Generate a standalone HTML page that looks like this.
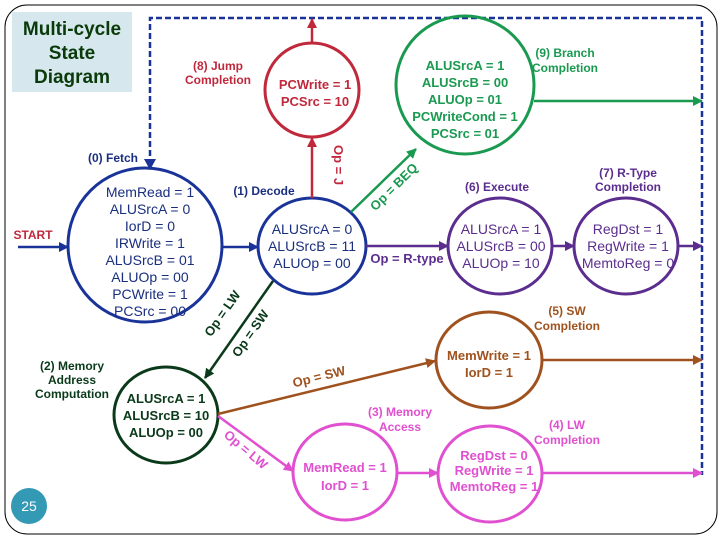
<!DOCTYPE html>
<html><head><meta charset="utf-8"><style>
html,body{margin:0;padding:0;background:#fff;}
svg{display:block;font-family:"Liberation Sans",sans-serif;}
.b{font-weight:bold;}
</style></head><body>
<svg width="720" height="540" viewBox="0 0 720 540" xmlns="http://www.w3.org/2000/svg">
<defs>
<marker id="mB" markerWidth="10" markerHeight="10" refX="9" refY="5" orient="auto" markerUnits="userSpaceOnUse"><path d="M0,0 L10,5 L0,10 z" fill="#1a3399"/></marker>
<marker id="mR" markerWidth="10" markerHeight="10" refX="9" refY="5" orient="auto" markerUnits="userSpaceOnUse"><path d="M0,0 L10,5 L0,10 z" fill="#c0283c"/></marker>
<marker id="mG" markerWidth="10" markerHeight="10" refX="9" refY="5" orient="auto" markerUnits="userSpaceOnUse"><path d="M0,0 L10,5 L0,10 z" fill="#1a9a50"/></marker>
<marker id="mP" markerWidth="10" markerHeight="10" refX="9" refY="5" orient="auto" markerUnits="userSpaceOnUse"><path d="M0,0 L10,5 L0,10 z" fill="#5b2d8e"/></marker>
<marker id="mD" markerWidth="10" markerHeight="10" refX="9" refY="5" orient="auto" markerUnits="userSpaceOnUse"><path d="M0,0 L10,5 L0,10 z" fill="#0a3a1a"/></marker>
<marker id="mO" markerWidth="10" markerHeight="10" refX="9" refY="5" orient="auto" markerUnits="userSpaceOnUse"><path d="M0,0 L10,5 L0,10 z" fill="#a0521e"/></marker>
<marker id="mM" markerWidth="10" markerHeight="10" refX="9" refY="5" orient="auto" markerUnits="userSpaceOnUse"><path d="M0,0 L10,5 L0,10 z" fill="#e050d0"/></marker>
</defs>
<rect x="5" y="5" width="712" height="529" rx="22" fill="none" stroke="#000" stroke-width="1"/>
<rect x="12" y="12" width="120" height="80" fill="#d6e8ee"/>
<g class="b" font-size="19" fill="#0a3a0a" text-anchor="middle"><text x="72" y="35">Multi-cycle</text><text x="72" y="59">State</text><text x="72" y="83">Diagram</text></g>
<!-- dashed loop -->
<path d="M150,165 L150,18 L702,18 L702,475" fill="none" stroke="#1a3399" stroke-width="2.5" stroke-dasharray="6,3"/>
<path d="M144,159 L150,170 L156,159 z" fill="#1a3399"/>
<!-- fetch -->
<circle cx="145" cy="245" r="77" fill="none" stroke="#1a3399" stroke-width="3"/>
<g font-size="14" fill="#1a2f7f" text-anchor="middle"><text x="150" y="197">MemRead = 1</text><text x="150" y="214">ALUSrcA = 0</text><text x="150" y="231">IorD = 0</text><text x="150" y="248">IRWrite = 1</text><text x="150" y="265">ALUSrcB = 01</text><text x="150" y="282">ALUOp = 00</text><text x="150" y="299">PCWrite = 1</text><text x="150" y="316">PCSrc = 00</text></g>
<text x="113" y="162" class="b" font-size="12" fill="#1a2f7f" text-anchor="middle">(0) Fetch</text>
<text x="33" y="239" class="b" font-size="12" fill="#c0283c" text-anchor="middle">START</text>
<line x1="18" y1="247" x2="68" y2="247" stroke="#1a3399" stroke-width="2.5" marker-end="url(#mB)"/>
<line x1="222" y1="247" x2="258" y2="247" stroke="#1a3399" stroke-width="2.5" marker-end="url(#mB)"/>
<!-- decode -->
<ellipse cx="312" cy="246" rx="54" ry="48" fill="none" stroke="#1a3399" stroke-width="3"/>
<g font-size="14" fill="#1a2f7f" text-anchor="middle"><text x="312" y="234">ALUSrcA = 0</text><text x="312" y="251">ALUSrcB = 11</text><text x="312" y="268">ALUOp = 00</text></g>
<text x="264" y="195" class="b" font-size="12" fill="#1a2f7f" text-anchor="middle">(1) Decode</text>
<!-- jump -->
<circle cx="312" cy="90" r="47" fill="none" stroke="#c0283c" stroke-width="3"/>
<g class="b" font-size="13" fill="#c0283c" text-anchor="middle"><text x="315" y="89">PCWrite = 1</text><text x="315" y="106">PCSrc = 10</text></g>
<g class="b" font-size="12" fill="#c0283c" text-anchor="middle"><text x="218" y="70">(8) Jump</text><text x="218" y="84">Completion</text></g>
<line x1="312" y1="198" x2="312" y2="138" stroke="#c0283c" stroke-width="2.5" marker-end="url(#mR)"/>
<line x1="312" y1="43" x2="312" y2="19" stroke="#c0283c" stroke-width="2.5" marker-end="url(#mR)"/>
<text transform="translate(334,165) rotate(90)" class="b" font-size="13" fill="#c0283c" text-anchor="middle">Op = J</text>
<!-- branch -->
<circle cx="465" cy="85" r="69" fill="none" stroke="#1a9a50" stroke-width="3"/>
<g class="b" font-size="13" fill="#1a9a50" text-anchor="middle"><text x="465" y="70">ALUSrcA = 1</text><text x="465" y="87">ALUSrcB = 00</text><text x="465" y="104">ALUOp = 01</text><text x="465" y="121">PCWriteCond = 1</text><text x="465" y="138">PCSrc = 01</text></g>
<g class="b" font-size="12" fill="#1a9a50" text-anchor="middle"><text x="565" y="57">(9) Branch</text><text x="565" y="72">Completion</text></g>
<line x1="534" y1="101" x2="702" y2="101" stroke="#1a9a50" stroke-width="2.5" marker-end="url(#mG)"/>
<line x1="351" y1="212" x2="416" y2="149" stroke="#1a9a50" stroke-width="2.5" marker-end="url(#mG)"/>
<text transform="translate(397,190) rotate(-45)" class="b" font-size="13" fill="#1a9a50" text-anchor="middle">Op = BEQ</text>
<!-- execute -->
<ellipse cx="500" cy="246" rx="52" ry="48" fill="none" stroke="#5b2d8e" stroke-width="3"/>
<g font-size="14" fill="#5b2d8e" text-anchor="middle"><text x="501" y="234">ALUSrcA = 1</text><text x="501" y="251">ALUSrcB = 00</text><text x="501" y="268">ALUOp = 10</text></g>
<text x="497" y="191" class="b" font-size="12" fill="#5b2d8e" text-anchor="middle">(6) Execute</text>
<ellipse cx="626" cy="246" rx="52" ry="48" fill="none" stroke="#5b2d8e" stroke-width="3"/>
<g font-size="14" fill="#5b2d8e" text-anchor="middle"><text x="628" y="234">RegDst = 1</text><text x="628" y="251">RegWrite = 1</text><text x="628" y="268">MemtoReg = 0</text></g>
<g class="b" font-size="12" fill="#5b2d8e" text-anchor="middle"><text x="628" y="177">(7) R-Type</text><text x="628" y="191">Completion</text></g>
<line x1="366" y1="246" x2="448" y2="246" stroke="#5b2d8e" stroke-width="2.5" marker-end="url(#mP)"/>
<text x="407" y="263" class="b" font-size="13" fill="#5b2d8e" text-anchor="middle">Op = R-type</text>
<line x1="552" y1="246" x2="574" y2="246" stroke="#5b2d8e" stroke-width="2.5" marker-end="url(#mP)"/>
<line x1="678" y1="246" x2="702" y2="246" stroke="#5b2d8e" stroke-width="2.5" marker-end="url(#mP)"/>
<!-- mem addr -->
<ellipse cx="166" cy="415" rx="52" ry="48" fill="none" stroke="#0a3a1a" stroke-width="3"/>
<g class="b" font-size="13" fill="#0a3a1a" text-anchor="middle"><text x="166" y="403">ALUSrcA = 1</text><text x="166" y="420">ALUSrcB = 10</text><text x="166" y="437">ALUOp = 00</text></g>
<g class="b" font-size="12" fill="#0a3a1a" text-anchor="middle"><text x="72" y="370">(2) Memory</text><text x="72" y="384">Address</text><text x="72" y="398">Computation</text></g>
<line x1="273" y1="281" x2="205" y2="378" stroke="#0a3a1a" stroke-width="2.5" marker-end="url(#mD)"/>
<text transform="translate(226,316) rotate(-55)" class="b" font-size="13" fill="#0a3a1a" text-anchor="middle">Op = LW</text>
<text transform="translate(254,336) rotate(-55)" class="b" font-size="13" fill="#0a3a1a" text-anchor="middle">Op = SW</text>
<!-- SW -->
<ellipse cx="489" cy="360" rx="53" ry="48" fill="none" stroke="#a0521e" stroke-width="3"/>
<g class="b" font-size="13" fill="#a0521e" text-anchor="middle"><text x="489" y="360">MemWrite = 1</text><text x="489" y="377">IorD = 1</text></g>
<g class="b" font-size="12" fill="#a0521e" text-anchor="middle"><text x="567" y="315">(5) SW</text><text x="567" y="330">Completion</text></g>
<line x1="218" y1="414" x2="435" y2="361" stroke="#a0521e" stroke-width="2.5" marker-end="url(#mO)"/>
<text transform="translate(320,381) rotate(-14)" class="b" font-size="13" fill="#a0521e" text-anchor="middle">Op = SW</text>
<line x1="542" y1="360" x2="702" y2="360" stroke="#a0521e" stroke-width="2.5" marker-end="url(#mO)"/>
<!-- mem access -->
<ellipse cx="345" cy="472" rx="52" ry="48" fill="none" stroke="#e050d0" stroke-width="3"/>
<g class="b" font-size="13" fill="#e050d0" text-anchor="middle"><text x="345" y="472">MemRead = 1</text><text x="345" y="490">IorD = 1</text></g>
<g class="b" font-size="12" fill="#e050d0" text-anchor="middle"><text x="400" y="416">(3) Memory</text><text x="400" y="431">Access</text></g>
<line x1="218" y1="416" x2="293" y2="471" stroke="#e050d0" stroke-width="2.5" marker-end="url(#mM)"/>
<text transform="translate(243,453) rotate(40)" class="b" font-size="13" fill="#e050d0" text-anchor="middle">Op = LW</text>
<ellipse cx="490" cy="474" rx="52" ry="48" fill="none" stroke="#e050d0" stroke-width="3"/>
<g class="b" font-size="13" fill="#e050d0" text-anchor="middle"><text x="494" y="460">RegDst = 0</text><text x="494" y="475">RegWrite = 1</text><text x="494" y="491">MemtoReg = 1</text></g>
<g class="b" font-size="12" fill="#e050d0" text-anchor="middle"><text x="567" y="429">(4) LW</text><text x="567" y="444">Completion</text></g>
<line x1="398" y1="473" x2="438" y2="473" stroke="#e050d0" stroke-width="2.5" marker-end="url(#mM)"/>
<line x1="543" y1="473" x2="702" y2="473" stroke="#e050d0" stroke-width="2.5" marker-end="url(#mM)"/>
<!-- slide number -->
<circle cx="29" cy="506" r="18" fill="#3399b5"/>
<text x="29" y="511" font-size="14" fill="#fff" text-anchor="middle">25</text>
</svg>
</body></html>
